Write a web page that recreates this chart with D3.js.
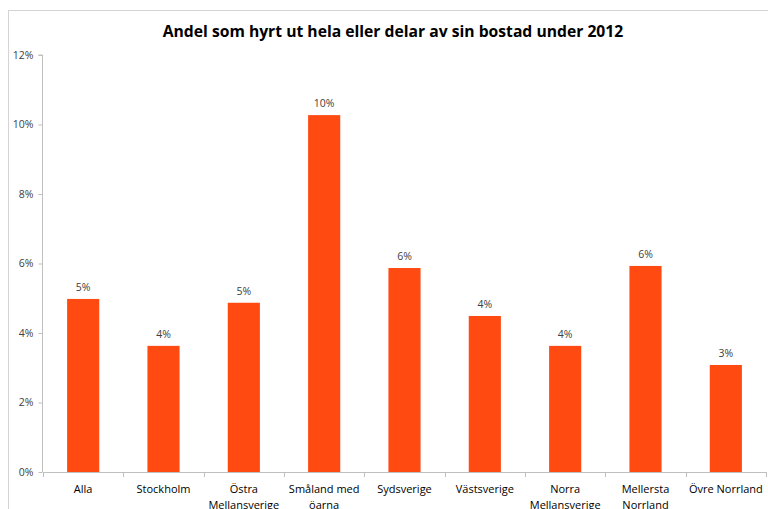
<!DOCTYPE html>
<html>
<head>
<meta charset="utf-8">
<script src="https://cdn.jsdelivr.net/npm/d3@7"></script>
<style>
  html, body { margin: 0; padding: 0; background: #fff; }
  svg { display: block; }
  text { font-family: "Open Sans", "Noto Sans", sans-serif; }
</style>
</head>
<body>
<svg id="chart" width="768" height="509"></svg>
<script>
const categories = ["Alla", "Stockholm", "Östra Mellansverige", "Småland med öarna", "Sydsverige", "Västsverige", "Norra Mellansverige", "Mellersta Norrland", "Övre Norrland"];
const categoryLines = [["Alla"], ["Stockholm"], ["Östra", "Mellansverige"], ["Småland med", "öarna"], ["Sydsverige"], ["Västsverige"], ["Norra", "Mellansverige"], ["Mellersta", "Norrland"], ["Övre Norrland"]];
const values = [0.0498, 0.0363, 0.0487, 0.1027, 0.0587, 0.0449, 0.0363, 0.0593, 0.0308];
const valueLabels = ["5%", "4%", "5%", "10%", "6%", "4%", "4%", "6%", "3%"];
const yTicks = [0, 0.02, 0.04, 0.06, 0.08, 0.10, 0.12];
const title = "Andel som hyrt ut hela eller delar av sin bostad under 2012";

const svg = d3.select("#chart");
const plotLeft = 43, plotRight = 766, plotTop = 55, plotBottom = 472;

// outer frame
svg.append("rect").attr("x", 8.5).attr("y", 10.5).attr("width", 900).attr("height", 700)
  .attr("fill", "none").attr("stroke", "#d4d4d4").attr("stroke-width", 1);

svg.append("text").attr("x", 393).attr("y", 37).attr("text-anchor", "middle")
  .attr("font-size", 15.7).attr("font-weight", "bold").attr("fill", "#000")
  .text(title);

const x = d3.scaleBand().domain(categories).range([plotLeft, plotRight]).paddingInner(0.6).paddingOuter(0.3);
const y = d3.scaleLinear().domain([0, 0.12]).range([plotBottom, plotTop]);

// y axis
const yAxis = d3.axisLeft(y).tickValues(yTicks).tickFormat(d3.format(".0%")).tickSize(4).tickPadding(5);
const gy = svg.append("g").attr("transform", `translate(${plotLeft - 0.5},0)`).call(yAxis);
gy.select(".domain").attr("stroke", "#bfbfbf").attr("d", `M-4,${y(0.12)}H0V${y(0)}`);
gy.selectAll(".tick line").attr("stroke", "#bfbfbf");
gy.selectAll(".tick text").attr("font-size", 10.5).attr("fill", "#404040")
  .attr("font-family", "\"Open Sans\", sans-serif");

// bars
svg.append("g").selectAll("rect").data(categories).join("rect")
  .attr("x", d => x(d)).attr("width", x.bandwidth())
  .attr("y", (d, i) => y(values[i])).attr("height", (d, i) => y(0) - y(values[i]))
  .attr("fill", "#FF4B12");

// value labels
svg.append("g").selectAll("text").data(categories).join("text")
  .attr("x", d => x(d) + x.bandwidth() / 2).attr("y", (d, i) => y(values[i]) - 8)
  .attr("text-anchor", "middle").attr("font-size", 10.5).attr("fill", "#404040")
  .text((d, i) => valueLabels[i]);

// x axis
const step = x.step();
const boundaries = d3.range(categories.length + 1).map(i => plotLeft + i * step);
const gx = svg.append("g");
gx.append("line").attr("x1", plotLeft).attr("x2", plotRight).attr("y1", plotBottom + 0.5).attr("y2", plotBottom + 0.5)
  .attr("stroke", "#bfbfbf");
gx.selectAll("line.tk").data(boundaries).join("line").attr("class", "tk")
  .attr("x1", d => Math.round(d) + 0.5).attr("x2", d => Math.round(d) + 0.5)
  .attr("y1", plotBottom).attr("y2", plotBottom + 5).attr("stroke", "#bfbfbf");

const labels = gx.selectAll("text").data(categories).join("text")
  .attr("x", d => x(d) + x.bandwidth() / 2).attr("y", 493)
  .attr("text-anchor", "middle").attr("font-size", 11).attr("fill", "#000");
labels.each(function(d, i) {
  const t = d3.select(this);
  categoryLines[i].forEach((ln, j) => {
    t.append("tspan").attr("x", x(d) + x.bandwidth() / 2).attr("dy", j === 0 ? 0 : 16).text(ln);
  });
});
</script>
</body>
</html>
